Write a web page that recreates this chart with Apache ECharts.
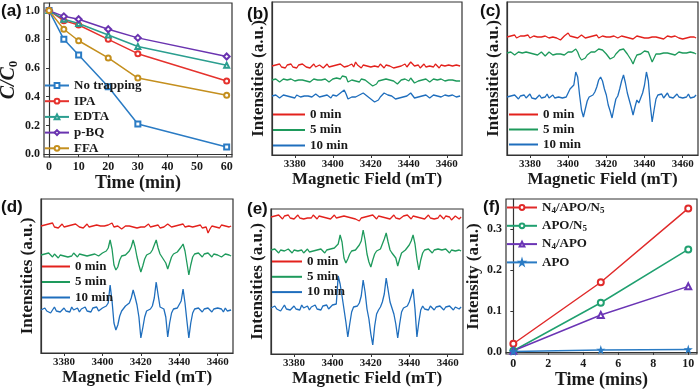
<!DOCTYPE html>
<html>
<head>
<meta charset="utf-8">
<script src="https://cdn.jsdelivr.net/npm/echarts@6/dist/echarts.min.js"></script>
<style>
  html, body { margin: 0; padding: 0; background: #fff; }
  #chart { width: 700px; height: 392px; }
</style>
</head>
<body>
<div id="chart"></div>
<script>
// ---- (a) trapping experiment ----
const timeA = [0, 5, 10, 20, 30, 60];
const noTrapping = [1.0, 0.80, 0.69, 0.47, 0.21, 0.05];
const ipa = [1.0, 0.93, 0.90, 0.80, 0.70, 0.51];
const edta = [1.0, 0.94, 0.91, 0.83, 0.75, 0.62];
const pbq = [1.0, 0.96, 0.94, 0.87, 0.81, 0.68];
const ffa = [1.0, 0.87, 0.79, 0.67, 0.53, 0.41];
const ticksA_x = [0, 10, 20, 30, 40, 50, 60];
const ticksA_y = [0, 0.2, 0.4, 0.6, 0.8, 1.0];

// ---- (b)-(e) EPR spectra, 1 mT steps from FIELD_START ----
const FIELD_START = 3368;
const FIELD_STEP = 1;
const fieldTicks = [3380, 3400, 3420, 3440, 3460];

const b0 = [89,87,90,88,91,88,89,87,90,89, 91,88,89,87,90,88,91,89,88,90, 87,89,91,88,89,90,88,87,89,91, 88,90,89,87,90,88,91,89,88,90,
            89,87,91,88,93,90,88,87,90,88, 89,91,88,86,89,90,88,91,89,87, 90,88,89,91,87,89,88,90,89,87, 91,88,90,93,92,89,88,90,87,89,
            91,88,86,89,90,88,91,89,87,90, 88,89,87,90,88,89,87,90,88,89];
const b5 = [75,74,76,75,73,75,76,74,75,73, 76,75,74,76,75,73,75,76,74,75, 73,75,76,74,75,77,75,74,76,75, 73,75,76,74,77,75,76,79,81,78,
            73,72,75,76,74,75,73,76,77,75, 74,72,70,69,68,71,74,76,75,77, 76,74,75,73,74,73,71,72,75,74, 76,75,74,77,75,72,71,74,76,75,
            74,76,75,73,75,76,74,75,73,76, 75,74,76,75,73,75,76,74,75,74];
const b10 = [59,58,60,59,57,59,60,58,59,61, 58,59,57,60,59,58,60,59,57,59, 60,58,59,61,59,58,60,59,58,60, 59,57,60,61,59,60,62,64,65,61,
             56,55,58,60,58,59,60,61,62,60, 59,57,56,54,53,52,55,58,60,62, 62,60,58,59,57,56,55,57,59,58, 60,59,61,62,60,57,56,58,60,59,
             58,60,59,57,59,60,58,59,61,58, 59,60,58,59,57,60,59,58,60,59];

const c0 = [118,117,119,118,120,117,118,119,117,119, 118,120,117,118,119,117,118,120,118,117, 119,118,117,119,118,116,117,118,115,117,
            119,120,122,119,117,118,119,117,118,120, 118,117,119,118,117,119,118,120,117,118, 119,117,118,119,118,117,119,118,117,118,
            119,117,118,119,117,118,116,118,119,117, 118,119,117,118,117,119,118,117,118,119, 117,118,116,118,119,117,118,117,119,118,
            117,118,116,118,117,119,118,117,118,117];
const c5 = [102,101,103,102,100,102,103,101,102,100, 103,101,102,104,101,102,100,102,103,101, 99,101,103,102,100,102,101,103,101,102,
            100,102,103,101,103,104,106,103,98,95, 93,97,100,101,103,101,103,105,106,108, 105,103,101,99,96,94,98,101,103,105,
            107,106,104,101,98,95,91,96,100,102, 101,103,104,106,103,98,93,97,101,102, 101,103,102,100,102,103,101,102,100,102,
            103,101,102,100,102,101,103,101,102,101];
const c10 = [58,56,59,57,60,58,56,59,58,60, 57,58,61,57,59,56,58,60,57,59, 58,61,57,58,60,57,59,58,60,57, 59,58,62,66,65,70,83,78,60,45,
             38,46,54,58,57,60,63,68,75,78, 74,66,60,50,44,37,47,56,59,66, 74,80,72,62,55,48,40,48,55,52, 57,62,70,83,74,50,33,45,56,60,
             58,61,57,59,62,58,60,57,59,61, 58,60,57,59,58,61,57,59,58,60];

const d0 = [127,125,128,126,129,127,130,126,128,125, 127,129,126,128,127,125,128,126,129,127, 126,128,125,127,129,126,128,127,125,128,
            126,127,129,127,126,128,127,130,126,128, 127,125,124,126,127,125,127,128,126,127, 125,127,126,128,126,127,129,126,128,127,
            126,128,125,127,126,128,129,127,126,128, 127,125,128,127,129,126,128,127,125,126, 128,127,126,128,125,127,126,120,124,127,
            128,126,127,125,128,126,127,128,126,127];
const d5 = [98,96,99,97,100,98,96,99,97,95, 98,100,97,99,96,98,97,100,98,96, 99,97,98,100,97,99,98,96,99,98, 97,99,100,98,102,105,113,104,88,83,
            86,93,97,99,98,100,102,106,113,106, 96,88,81,87,94,98,97,100,103,108, 113,105,99,96,94,90,84,90,96,99, 98,101,103,106,109,102,90,78,88,96,
            99,97,100,98,96,99,97,100,98,96, 99,97,98,100,96,98,99,97,98,97];
const d10 = [43,41,45,42,44,40,43,46,42,44, 41,43,45,42,44,41,46,43,42,45, 41,44,43,46,42,44,41,45,43,46, 42,44,45,43,47,50,68,52,30,23,
             28,37,42,44,47,46,50,55,63,56, 48,36,15,25,36,42,41,44,47,55, 71,58,46,48,44,36,16,30,40,44, 42,45,47,52,64,50,32,15,30,40,
             44,42,45,43,41,44,42,45,43,41, 44,42,45,43,44,41,45,42,44,43];

const e0 = [137,135,138,136,139,137,135,138,136,139, 136,138,135,137,139,136,138,135,137,136, 138,136,139,137,135,138,136,137,139,136,
            138,135,137,139,136,138,137,135,138,136, 137,139,136,138,135,137,133,136,138,137, 135,138,136,139,137,135,138,136,137,139,
            136,138,135,137,139,136,138,135,137,138, 136,139,137,135,138,136,137,139,136,138, 135,137,139,136,138,135,137,136,139,137,
            135,138,136,137,134,136,138,137,135,137];
const e5 = [104,102,105,103,101,104,106,103,102,105, 103,101,104,106,103,102,104,101,103,105, 102,104,103,101,104,102,105,103,101,104,
            103,105,104,106,108,110,119,112,96,91, 95,100,103,105,104,106,109,113,124,114, 100,92,87,94,100,103,102,105,110,115,
            121,112,104,101,99,96,88,95,101,103, 104,106,109,113,119,110,95,84,94,101, 104,102,105,103,101,104,102,105,103,104,
            102,105,103,101,104,106,103,102,104,103];
const e10 = [46,44,48,45,47,43,46,49,45,47, 44,46,48,45,47,44,49,46,45,48, 44,47,46,49,45,47,44,48,46,49, 45,47,49,48,50,78,70,58,45,32,
             17,30,42,47,49,48,51,58,74,62, 45,35,20,9,28,40,44,47,52,60, 76,64,52,46,40,30,16,30,42,46, 45,48,52,58,65,45,17,32,44,48,
             45,47,44,48,46,44,47,45,48,46, 44,47,45,48,46,44,47,46,45,47];

// ---- (f) signal intensity vs time ----
const timeF = [0, 5, 10];
const n4apon5 = [0.02, 0.17, 0.35];
const apon5 = [0.003, 0.12, 0.25];
const n4apo = [0.003, 0.09, 0.16];
const apo = [0.001, 0.005, 0.006];
const ticksF_x = [0, 2, 4, 6, 8, 10];
const ticksF_y = [0, 0.1, 0.2, 0.3];

const SERIF = 'Liberation Serif';
const INK = '#1a1a1a';
const RED = '#e3211c', GREEN = '#1e9a5c', BLUE = '#1f6ebd';
const STAR = 'path://M50,0 L61,35 L98,35 L68,57 L79,91 L50,70 L21,91 L32,57 L2,35 L39,35 Z';

const chart = echarts.init(document.getElementById('chart'));

function pairs(xs, ys) { return ys.map((v, i) => [xs[i], v]); }
function spectrum(vals) { return vals.map((v, i) => [FIELD_START + i * FIELD_STEP, v]); }

const grids = [
  { left: 44, top: 3, width: 188, height: 154 },
  { left: 272, top: 2, width: 190, height: 153 },
  { left: 507, top: 2, width: 191, height: 153 },
  { left: 41, top: 199, width: 192, height: 154 },
  { left: 271, top: 209, width: 192, height: 145 },
  { left: 506, top: 199, width: 191, height: 155 }
].map(g => Object.assign(g, { show: true, borderColor: '#333', borderWidth: 1.2, outerBoundsMode: 'none' }));

const tickLabel = (size, fmt) => ({
  fontFamily: SERIF, fontWeight: 'bold', fontSize: size, color: INK, margin: 4, formatter: fmt
});

function xAxisOf(idx, opt) {
  return Object.assign({
    type: 'value', gridIndex: idx, nameLocation: 'middle',
    nameTextStyle: { fontFamily: SERIF, fontWeight: 'bold', fontSize: 17, color: INK },
    axisLine: { show: true, lineStyle: { color: '#333', width: 1.2 } },
    splitLine: { show: false }
  }, opt);
}
function yAxisOf(idx, opt) {
  return Object.assign({
    type: 'value', gridIndex: idx, nameLocation: 'middle', nameGap: 5,
    nameTextStyle: { fontFamily: SERIF, fontWeight: 'bold', fontSize: 17, color: INK },
    axisLine: { show: true, lineStyle: { color: '#333', width: 1.2 } },
    axisTick: { show: false },
    axisLabel: { show: false },
    splitLine: { show: false }
  }, opt);
}

const fieldAxis = (idx, gap) => xAxisOf(idx, {
  min: 3368, max: 3468, name: 'Magnetic Field (mT)', nameGap: gap,
  axisLabel: Object.assign(tickLabel(11, v => String(v)), { customValues: fieldTicks }),
  axisTick: { customValues: fieldTicks, length: 3, lineStyle: { color: '#333' } }
});

const xAxes = [
  xAxisOf(0, {
    min: -1.7, max: 61.8, name: 'Time (min)', nameGap: 12,
    nameTextStyle: { fontFamily: SERIF, fontWeight: 'bold', fontSize: 18, color: INK },
    axisLabel: Object.assign(tickLabel(12, v => String(v)), { customValues: ticksA_x }),
    axisTick: { customValues: ticksA_x, length: 3, lineStyle: { color: '#333' } }
  }),
  fieldAxis(1, 16), fieldAxis(2, 16), fieldAxis(3, 14), fieldAxis(4, 13),
  xAxisOf(5, {
    min: -0.42, max: 10.5, name: 'Time (mins)', nameGap: 15,
    nameTextStyle: { fontFamily: SERIF, fontWeight: 'bold', fontSize: 18, color: INK },
    axisLabel: Object.assign(tickLabel(12, v => String(v)), { customValues: ticksF_x }),
    axisTick: { customValues: ticksF_x, length: 3, lineStyle: { color: '#333' } }
  })
];

const yAxes = [
  yAxisOf(0, {
    min: -0.02, max: 1.053, name: '{i|C/C}{s|0}', nameGap: 24,
    nameTextStyle: {
      fontFamily: SERIF, fontWeight: 'bold', fontSize: 20, color: INK,
      rich: {
        i: { fontFamily: SERIF, fontWeight: 'bold', fontStyle: 'italic', fontSize: 20, color: INK },
        s: { fontFamily: SERIF, fontWeight: 'bold', fontSize: 13, color: INK, padding: [9, 0, 0, 0] }
      }
    },
    axisTick: { show: true, customValues: ticksA_y, length: 3, lineStyle: { color: '#333' } },
    axisLabel: Object.assign(tickLabel(12, v => v.toFixed(1)), { show: true, customValues: ticksA_y })
  }),
  yAxisOf(1, { min: 0, max: 153, name: 'Intensities (a.u.)' }),
  yAxisOf(2, { min: 0, max: 153, name: 'Intensities (a.u.)' }),
  yAxisOf(3, { min: 0, max: 154, name: 'Intensities (a.u.)' }),
  yAxisOf(4, { min: 0, max: 145, name: 'Intensities (a.u.)' }),
  yAxisOf(5, {
    min: -0.005, max: 0.373, name: 'Intensity (a.u.)', nameGap: 24,
    axisTick: { show: true, customValues: ticksF_y, length: 3, lineStyle: { color: '#333' } },
    axisLabel: Object.assign(tickLabel(12, v => v.toFixed(1)), { show: true, customValues: ticksF_y })
  })
];

function marked(name, idx, xs, ys, color, symbol, size) {
  return {
    name, type: 'line', xAxisIndex: idx, yAxisIndex: idx, data: pairs(xs, ys),
    symbol, symbolSize: size, showAllSymbol: true,
    lineStyle: { color, width: 1.5 },
    itemStyle: { color, borderColor: color, borderWidth: 1.1 },
    animation: false
  };
}
function trace(name, idx, vals, color) {
  return {
    name, type: 'line', xAxisIndex: idx, yAxisIndex: idx, data: spectrum(vals),
    symbol: 'none', lineStyle: { color, width: 1.3 }, itemStyle: { color },
    animation: false
  };
}

const series = [
  marked('No trapping', 0, timeA, noTrapping, '#2a7bc4', 'emptyRect', 5),
  marked('IPA', 0, timeA, ipa, '#e5322d', 'emptyCircle', 5),
  marked('EDTA', 0, timeA, edta, '#2b9e8f', 'emptyTriangle', 5),
  marked('p-BQ', 0, timeA, pbq, '#6a34b0', 'emptyDiamond', 6),
  marked('FFA', 0, timeA, ffa, '#c48f1e', 'emptyCircle', 5),
  trace('0 min', 1, b0, RED), trace('5 min', 1, b5, GREEN), trace('10 min', 1, b10, BLUE),
  trace('0 min', 2, c0, RED), trace('5 min', 2, c5, GREEN), trace('10 min', 2, c10, BLUE),
  trace('0 min', 3, d0, RED), trace('5 min', 3, d5, GREEN), trace('10 min', 3, d10, BLUE),
  trace('0 min', 4, e0, RED), trace('5 min', 4, e5, GREEN), trace('10 min', 4, e10, BLUE),
  marked('N4/APO/N5', 5, timeF, n4apon5, '#e02a2a', 'emptyCircle', 6),
  marked('APO/N5', 5, timeF, apon5, '#20a070', 'emptyCircle', 6),
  marked('N4/APO', 5, timeF, n4apo, '#6b35b5', 'emptyTriangle', 6),
  marked('APO', 5, timeF, apo, '#2a7bc4', STAR, 6)
];

const legendText = { fontFamily: SERIF, fontWeight: 'bold', fontSize: 13, color: INK };
function legendAt(names, left, top, w, h, gap, extra) {
  return Object.assign({
    data: names, orient: 'vertical', left, top, itemWidth: w, itemHeight: h, itemGap: gap,
    selectedMode: false, textStyle: legendText, padding: 0
  }, extra || {});
}
const minutes = ['0 min', '5 min', '10 min'];
const lineIcon = { icon: 'rect' };
const legends = [
  legendAt(['No trapping', 'IPA', 'EDTA', 'p-BQ', 'FFA'], 44, 79, 24, 6, 2.7),
  legendAt(minutes, 273, 108, 32, 2, 2.5, lineIcon),
  legendAt(minutes, 509, 108, 29, 2, 2, lineIcon),
  legendAt(minutes, 42, 260, 28, 2, 2.5, lineIcon),
  legendAt(minutes, 272, 255, 30, 2, 2.3, lineIcon),
  legendAt(['N4/APO/N5', 'APO/N5', 'N4/APO', 'APO'], 506, 201, 30, 6, 4.3, {
    formatter: n => n.replace(/(\d)/g, '{s|$1}'),
    textStyle: Object.assign({}, legendText, {
      rich: { s: { fontFamily: SERIF, fontWeight: 'bold', fontSize: 9, color: INK, padding: [6, 0, 0, 0] } }
    })
  })
];

const panelLabel = (text, x, y) => ({
  type: 'text', left: x, top: y,
  style: { text, fontFamily: 'Liberation Sans', fontWeight: 'bold', fontSize: 17, fill: '#111' }
});

chart.setOption({
  animation: false,
  grid: grids,
  xAxis: xAxes,
  yAxis: yAxes,
  legend: legends,
  series,
  graphic: [
    panelLabel('(a)', 1, 3), panelLabel('(b)', 247, 6), panelLabel('(c)', 480, 3),
    panelLabel('(d)', 1, 199), panelLabel('(e)', 247, 201), panelLabel('(f)', 483, 199)
  ]
});
</script>
</body>
</html>
